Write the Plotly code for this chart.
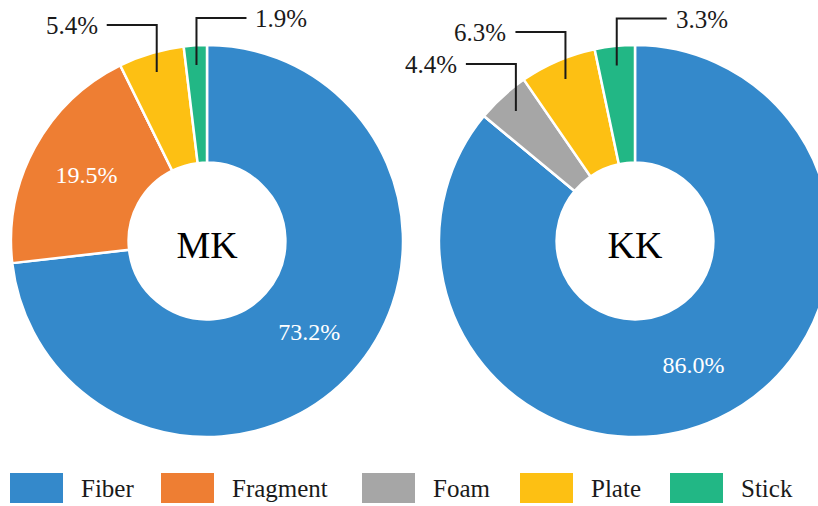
import math
import plotly.graph_objects as go

# Share (%) of each microplastic shape at the two sites
categories = ["Fiber", "Fragment", "Foam", "Plate", "Stick"]
mk_values = [73.2, 19.5, 0.0, 5.4, 1.9]
kk_values = [86.0, 0.0, 4.4, 6.3, 3.3]
site_names = ["MK", "KK"]
site_values = [mk_values, kk_values]

colors = ["#3489CB", "#EE7E33", "#A6A6A6", "#FDC013", "#22B785"]
FONT = "Liberation Serif, Times New Roman, serif"

# Canvas and donut geometry (pixels)
W, H = 840, 506
centers_x = [207, 635]
center_y = 241
radius = 196
hole = 0.40
inside_min = 15          # slices at least this big get their label inside
callout_right = {"Stick"}  # callouts that run to the right
lead_r = 0.9             # where a callout starts, as a fraction of radius
lead_up = 47
lead_len = 50
text_gap = 7


def px(x):
    return x / W


def py(y):
    return 1 - y / H


fig = go.Figure()
shapes, annotations = [], []

for name, vals, cx in zip(site_names, site_values, centers_x):
    textpos = ["inside" if v >= inside_min else "none" for v in vals]
    fig.add_trace(go.Pie(
        labels=categories,
        values=vals,
        sort=False,
        direction="clockwise",
        rotation=0,
        hole=hole,
        marker=dict(colors=colors, line=dict(color="white", width=2.5)),
        texttemplate="%{value:.1f}%",
        textposition=textpos,
        insidetextorientation="horizontal",
        insidetextfont=dict(family=FONT, size=24, color="white"),
        textfont=dict(family=FONT, size=24, color="white"),
        title=dict(text=name, position="middle center",
                   font=dict(family=FONT, size=38, color="black")),
        domain=dict(x=[px(cx - 200), px(cx + 200)],
                    y=[py(center_y + radius), py(center_y - radius)]),
        showlegend=False,
        hoverinfo="label+value",
    ))

    # Elbow callouts for the small slices
    total = sum(vals)
    cum = 0.0
    for cat, v in zip(categories, vals):
        mid = (cum + v / 2) / total * 2 * math.pi
        cum += v
        if v <= 0 or v >= inside_min:
            continue
        x0 = cx + lead_r * radius * math.sin(mid)
        y0 = center_y - lead_r * radius * math.cos(mid)
        y1 = y0 - lead_up
        side = 1 if cat in callout_right else -1
        x2 = x0 + side * lead_len
        path = f"M{px(x0)},{py(y0)} L{px(x0)},{py(y1)} L{px(x2)},{py(y1)}"
        shapes.append(dict(type="path", path=path, xref="paper", yref="paper",
                           line=dict(color="#1a1a1a", width=2), layer="above"))
        annotations.append(dict(
            text=f"{v:.1f}%", x=px(x2 + side * text_gap), y=py(y1 + 1),
            xref="paper", yref="paper", showarrow=False,
            xanchor="left" if side > 0 else "right", yanchor="middle",
            font=dict(family=FONT, size=25, color="#1a1a1a")))

# Legend drawn as wide colour swatches
legend_x = [10, 161, 362, 520, 670]
sw_w, sw_h, sw_top = 53, 30, 473
for cat, col, lx in zip(categories, colors, legend_x):
    shapes.append(dict(type="rect", xref="paper", yref="paper",
                       x0=px(lx), x1=px(lx + sw_w), y0=py(sw_top + sw_h), y1=py(sw_top),
                       fillcolor=col, line=dict(width=0)))
    annotations.append(dict(
        text=cat, x=px(lx + sw_w + 16), y=py(sw_top + sw_h / 2),
        xref="paper", yref="paper", showarrow=False,
        xanchor="left", yanchor="middle",
        font=dict(family=FONT, size=25, color="#1a1a1a")))

fig.update_layout(
    width=W, height=H, autosize=False,
    margin=dict(l=0, r=0, t=0, b=0),
    font=dict(family=FONT, color="#1a1a1a"),
    paper_bgcolor="white", plot_bgcolor="white",
    shapes=shapes, annotations=annotations,
    showlegend=False,
)

fig.write_html(
    "out.html",
    post_script="document.documentElement.style.overflow='hidden';"
                "document.body.style.overflow='hidden';"
                "document.body.style.margin='0';",
)
